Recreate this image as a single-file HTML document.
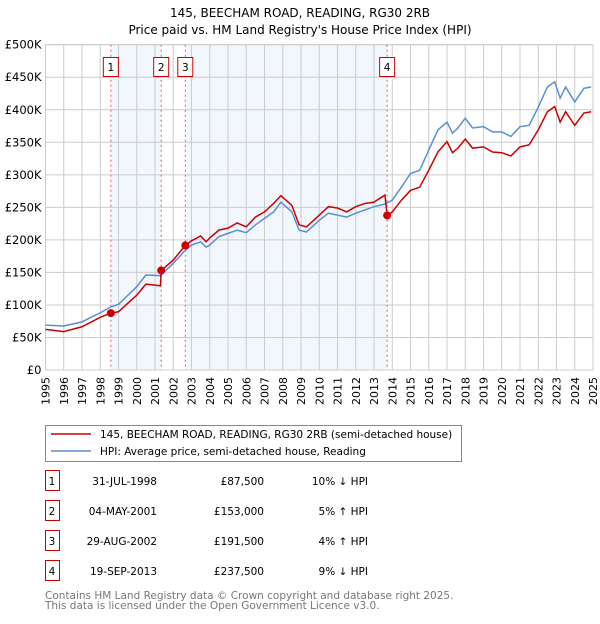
<!DOCTYPE html>
<html><head><meta charset="utf-8"><style>
body{margin:0;background:#fff;font-family:"DejaVu Sans","Liberation Sans",sans-serif;}
svg text{font-family:"DejaVu Sans","Liberation Sans",sans-serif;}
</style></head><body>
<svg id="chart" width="600" height="620" xmlns="http://www.w3.org/2000/svg">
<text x="300" y="17" text-anchor="middle" font-size="12">145, BEECHAM ROAD, READING, RG30 2RB</text>
<text x="300" y="34" text-anchor="middle" font-size="12">Price paid vs. HM Land Registry's House Price Index (HPI)</text>
<g id="plot"></g>
<g id="legend">
<rect x="45.5" y="425.5" width="416" height="36" fill="#fff" stroke="#888"/>
<line x1="51" y1="434" x2="91" y2="434" stroke="#cc0000" stroke-width="1.5"/>
<text x="100" y="438" font-size="10.5">145, BEECHAM ROAD, READING, RG30 2RB (semi-detached house)</text>
<line x1="51" y1="451" x2="91" y2="451" stroke="#5b8fd4" stroke-width="1.5"/>
<text x="100" y="455" font-size="10.5">HPI: Average price, semi-detached house, Reading</text>
</g>
<g id="table" font-size="10.5"></g>
<text x="45" y="599" font-size="10.5" fill="#777">Contains HM Land Registry data © Crown copyright and database right 2025.</text>
<text x="45" y="609" font-size="10.5" fill="#777">This data is licensed under the Open Government Licence v3.0.</text>
</svg>
<script>
const hpiYears=[1995,1996,1997,1998,1998.58,1999,2000,2000.5,2001.3,2002,2002.66,2003,2003.5,2003.8,2004,2004.5,2005,2005.5,2006,2006.5,2007,2007.5,2007.9,2008.5,2008.9,2009.3,2010,2010.5,2011,2011.5,2012,2012.5,2013,2013.6,2014,2014.5,2015,2015.5,2016,2016.5,2017,2017.3,2017.6,2018,2018.4,2019,2019.5,2020,2020.5,2021,2021.5,2022,2022.5,2022.9,2023.2,2023.5,2024,2024.5,2024.9];
const hpiValues=[69,67.6,74,88,97,101,128,146,145,164,184,192,197,189,192,205,210,215,211,223,233,243,258,243,215,212,230,241,238,235,241,246,251,255,261,281,302,307,338,369,381,364,372,387,372,374,366,366,359,374,376,404,435,443,418,435,412,433,435];
const priceYears=[1995,1996,1997,1998,1998.58,1999,2000,2000.5,2001.3,2001.34,2002,2002.66,2003,2003.5,2003.8,2004,2004.5,2005,2005.5,2006,2006.5,2007,2007.5,2007.9,2008.5,2008.9,2009.3,2010,2010.5,2011,2011.5,2012,2012.5,2013,2013.6,2013.72,2014,2014.5,2015,2015.5,2016,2016.5,2017,2017.3,2017.6,2018,2018.4,2019,2019.5,2020,2020.5,2021,2021.5,2022,2022.5,2022.9,2023.2,2023.5,2024,2024.5,2024.9];
const priceValues=[62.5,59,66.5,81,87.5,89.5,115,132,129.5,153,169,191.5,198.6,206,197,203,215,218,226,220,235,243,256,268,253,223,220,238,251,249,243,251,256,258,269,237.5,243,261,276,281,307,335,351,334,341,355,341,343,335,334,329,343,346,369,397,405,381,397,376,395,397];
const saleLabels=["1","2","3","4"];
const saleYears=[1998.58,2001.34,2002.66,2013.72];
const salePrices=[87.5,153,191.5,237.5];
const saleDates=["31-JUL-1998","04-MAY-2001","29-AUG-2002","19-SEP-2013"];
const salePriceText=["£87,500","£153,000","£191,500","£237,500"];
const saleHpiText=["10% ↓ HPI","5% ↑ HPI","4% ↑ HPI","9% ↓ HPI"];
const yTicks=[0,50,100,150,200,250,300,350,400,450,500];
const yTickLabels=["£0","£50K","£100K","£150K","£200K","£250K","£300K","£350K","£400K","£450K","£500K"];
const xTicks=[1995,1996,1997,1998,1999,2000,2001,2002,2003,2004,2005,2006,2007,2008,2009,2010,2011,2012,2013,2014,2015,2016,2017,2018,2019,2020,2021,2022,2023,2024,2025];

const NS="http://www.w3.org/2000/svg";
const L=45.5,R=593,T=44.7,B=370;
const sx=y=>L+(y-1995)/30*(R-L);
const sy=v=>B-v/500*(B-T);
function mk(tag,attrs,parent){const e=document.createElementNS(NS,tag);for(const k in attrs)e.setAttribute(k,attrs[k]);parent.appendChild(e);return e;}
const plot=document.getElementById('plot');
for(const [a,b] of [[0,1],[2,3]]){
 const r=mk('rect',{x:sx(saleYears[a]),y:T,width:sx(saleYears[b])-sx(saleYears[a]),height:B-T,fill:'#eef3fc',opacity:0.75},plot);
 
 
}
xTicks.forEach((t,i)=>{
 const l=mk('line',{x1:sx(t),x2:sx(t),y1:T,y2:B,stroke:'#cccccc','stroke-width':1},plot);
 
 
 const x=sx(t)+4, y=B+7;
 const tx=mk('text',{x:x,y:y,'text-anchor':'end','font-size':11,transform:`rotate(-90 ${x} ${y})`},plot);
 tx.textContent=t;
 
 
});
yTicks.forEach((t,i)=>{
 const l=mk('line',{x1:L,x2:R,y1:sy(t),y2:sy(t),stroke:'#cccccc','stroke-width':1},plot);
 
 
 const tx=mk('text',{x:L-4,y:sy(t)+4,'text-anchor':'end','font-size':11.5},plot);
 tx.textContent=yTickLabels[i];
 
 
});
const bord=mk('rect',{x:L,y:T,width:R-L,height:B-T,fill:'none',stroke:'#cccccc'},plot);


saleYears.forEach((y,i)=>{
 const l=mk('line',{x1:sx(y),x2:sx(y),y1:T,y2:B,stroke:'#e06060','stroke-dasharray':'2,3','stroke-width':1},plot);
 
 
 const bx=mk('rect',{x:sx(y)-7.5,y:57.5,width:15,height:19,fill:'#fff',stroke:'#cc0000'},plot);
 
 
 const tx=mk('text',{x:sx(y),y:71,'text-anchor':'middle','font-size':10.5},plot);
 tx.textContent=saleLabels[i];
 
 
});
const hp=mk('polyline',{points:hpiYears.map((y,i)=>sx(y)+','+sy(hpiValues[i])).join(' '),fill:'none',stroke:'#5b8fd4','stroke-width':1.5},plot);


const pp=mk('polyline',{points:priceYears.map((y,i)=>sx(y)+','+sy(priceValues[i])).join(' '),fill:'none',stroke:'#cc0000','stroke-width':1.5},plot);


saleYears.forEach((y,i)=>{
 const c=mk('circle',{cx:sx(y),cy:sy(salePrices[i]),r:4,fill:'#cc0000'},plot);
 
 
});
const tb=document.getElementById('table');
saleLabels.forEach((s,i)=>{
 const y=483+i*30;
 const b=mk('rect',{x:45.5,y:y-12.5,width:14,height:20,fill:'#fff',stroke:'#cc0000'},tb);
 
 
 const cells=[[52,'middle',s],[157,'end',saleDates[i]],[264,'end',salePriceText[i]],[368,'end',saleHpiText[i]]];
 cells.forEach(c=>{
  const t=mk('text',{x:c[0],y:y+2,'text-anchor':c[1],'font-size':10.5},tb);
  t.textContent=c[2];
  
  
 });
});
</script>
</body></html>
